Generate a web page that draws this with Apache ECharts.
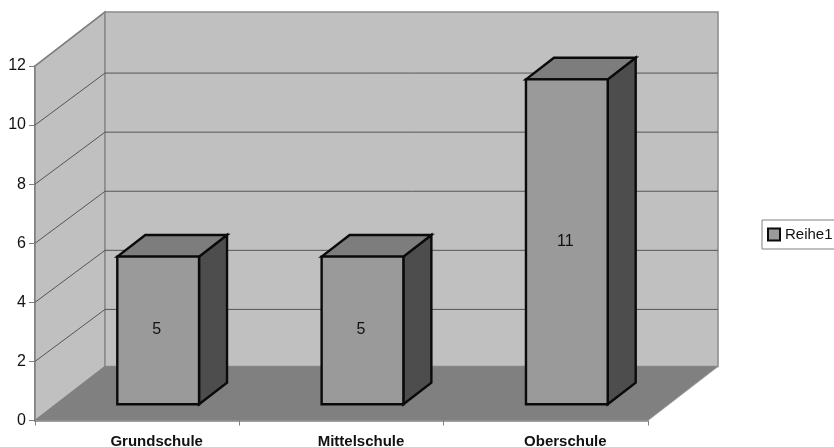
<!DOCTYPE html>
<html>
<head>
<meta charset="utf-8">
<style>html,body{margin:0;padding:0;background:#fff}#c{width:834px;height:447px}</style>
<script src="https://cdn.jsdelivr.net/npm/echarts@6/dist/echarts.min.js"></script>
</head>
<body>
<div id="c"></div>
<script>
const categories = ['Grundschule', 'Mittelschule', 'Oberschule'];
const values = [5, 5, 11];
const seriesName = 'Reihe1';
const yTicks = [0, 2, 4, 6, 8, 10, 12];

const FONT = '"Liberation Sans", Arial, sans-serif';
const DX = 70, DY = 54, GRID_DY = 52;  // depth of the floor and of the gridlines in pixels
const FRONT = 0.3, BACK = 0.7;         // bar depth as a share of the floor depth
const BAR = 0.4;                       // bar width as a share of the band

function renderWall(params, api) {
  const cs = params.coordSys;
  const v = api.value(1);
  const y = api.coord([0, v])[1];
  const L = cs.x, R = cs.x + cs.width, B = cs.y + cs.height, T = cs.y;
  const kids = [];
  if (v === 0) {
    kids.push({type: 'polygon', shape: {points: [[L, B], [L + DX, B - DY], [L + DX, T - DY], [L, T]]},
      style: {fill: '#c0c0c0', stroke: '#808080', lineWidth: 1.5}});
    kids.push({type: 'polygon', shape: {points: [[L + DX, T - DY], [R + DX, T - DY], [R + DX, B - DY], [L + DX, B - DY]]},
      style: {fill: '#c0c0c0', stroke: '#8a8a8a', lineWidth: 1.5}});
    kids.push({type: 'polygon', shape: {points: [[L, B], [R, B], [R + DX, B - DY], [L + DX, B - DY]]},
      style: {fill: '#808080'}});
    kids.push({type: 'line', shape: {x1: R, y1: B, x2: R + DX, y2: B - DY},
      style: {stroke: '#a0a0a0', lineWidth: 1}});
  } else if (v < yTicks[yTicks.length - 1]) {
    kids.push({type: 'polyline', shape: {points: [[L, y], [L + DX, y - GRID_DY], [R + DX, y - GRID_DY]]},
      style: {stroke: '#555', lineWidth: 1, fill: null}});
  } else {
    kids.push({type: 'line', shape: {x1: L, y1: y, x2: L + DX, y2: y - DY},
      style: {stroke: '#808080', lineWidth: 1.5}});
  }
  return {type: 'group', children: kids};
}

function renderBar(params, api) {
  const i = api.value(0), v = api.value(1);
  const c = api.coord([i, v]), o = api.coord([i, 0]);
  const w = api.size([1, 0])[0] * BAR;
  const fx = FRONT * DX, fy = FRONT * DY;
  const bx = (BACK - FRONT) * DX, by = (BACK - FRONT) * DY;
  const x0 = c[0] + fx - w / 2, x1 = x0 + w;
  const top = c[1] - fy, bot = o[1] - fy;
  const line = {stroke: '#0a0a0a', lineWidth: 2.4, lineJoin: 'miter'};
  return {type: 'group', children: [
    {type: 'polygon', shape: {points: [[x1, top], [x1 + bx, top - by], [x1 + bx, bot - by], [x1, bot]]},
      style: Object.assign({fill: '#4d4d4d'}, line)},
    {type: 'polygon', shape: {points: [[x0, top], [x0 + bx, top - by], [x1 + bx, top - by], [x1, top]]},
      style: Object.assign({fill: '#7d7d7d'}, line)},
    {type: 'rect', shape: {x: x0, y: top, width: w, height: bot - top},
      style: Object.assign({fill: '#9a9a9a'}, line)},
    {type: 'text', style: {text: String(v), x: (x0 + x1) / 2 - 1.5, y: (top + bot) / 2 - 0.5,
      fill: '#111', font: '16px ' + FONT, align: 'center', verticalAlign: 'middle'}}
  ]};
}

const chart = echarts.init(document.getElementById('c'), null, {renderer: 'canvas'});
chart.setOption({
  animation: false,
  backgroundColor: '#fff',
  tooltip: {show: false},
  grid: {left: 35, right: 186, top: 66, bottom: 26.5, containLabel: false, outerBoundsMode: 'none'},
  legend: {
    data: [seriesName],
    left: 762, top: 220,
    orient: 'vertical',
    padding: [7, 5, 7, 5],
    borderColor: '#808080', borderWidth: 1,
    itemWidth: 12, itemHeight: 12, itemGap: 0,
    icon: 'rect',
    selectedMode: false,
    textStyle: {fontFamily: FONT, fontSize: 15, color: '#111'}
  },
  xAxis: {
    type: 'category',
    data: categories,
    axisLine: {lineStyle: {color: '#808080', width: 1.5}},
    axisTick: {show: true, alignWithLabel: false, length: 5, lineStyle: {color: '#808080', width: 1}},
    splitLine: {show: false},
    axisLabel: {fontFamily: FONT, fontSize: 15, fontWeight: 'bold', color: '#111', margin: 14, padding: [0, 0, 0, 39]}
  },
  yAxis: {
    type: 'value', min: 0, max: 12, interval: 2,
    axisLine: {show: true, lineStyle: {color: '#808080', width: 2}},
    axisTick: {show: true, length: 6, lineStyle: {color: '#808080', width: 1}},
    splitLine: {show: false},
    axisLabel: {fontFamily: FONT, fontSize: 16, color: '#111', margin: 9, formatter: v => yTicks.includes(v) ? String(v) : ''}
  },
  series: [
    {
      name: 'Wand', type: 'custom', coordinateSystem: 'cartesian2d', clip: false, silent: true, z: 1,
      renderItem: renderWall, encode: {x: 0, y: 1},
      data: yTicks.map(t => [0, t])
    },
    {
      name: seriesName, type: 'custom', coordinateSystem: 'cartesian2d', clip: false, silent: true, z: 3,
      renderItem: renderBar, encode: {x: 0, y: 1},
      itemStyle: {color: '#9a9a9a', borderColor: '#0a0a0a', borderWidth: 2},
      data: values.map((v, i) => [i, v])
    }
  ]
});
</script>
</body>
</html>
